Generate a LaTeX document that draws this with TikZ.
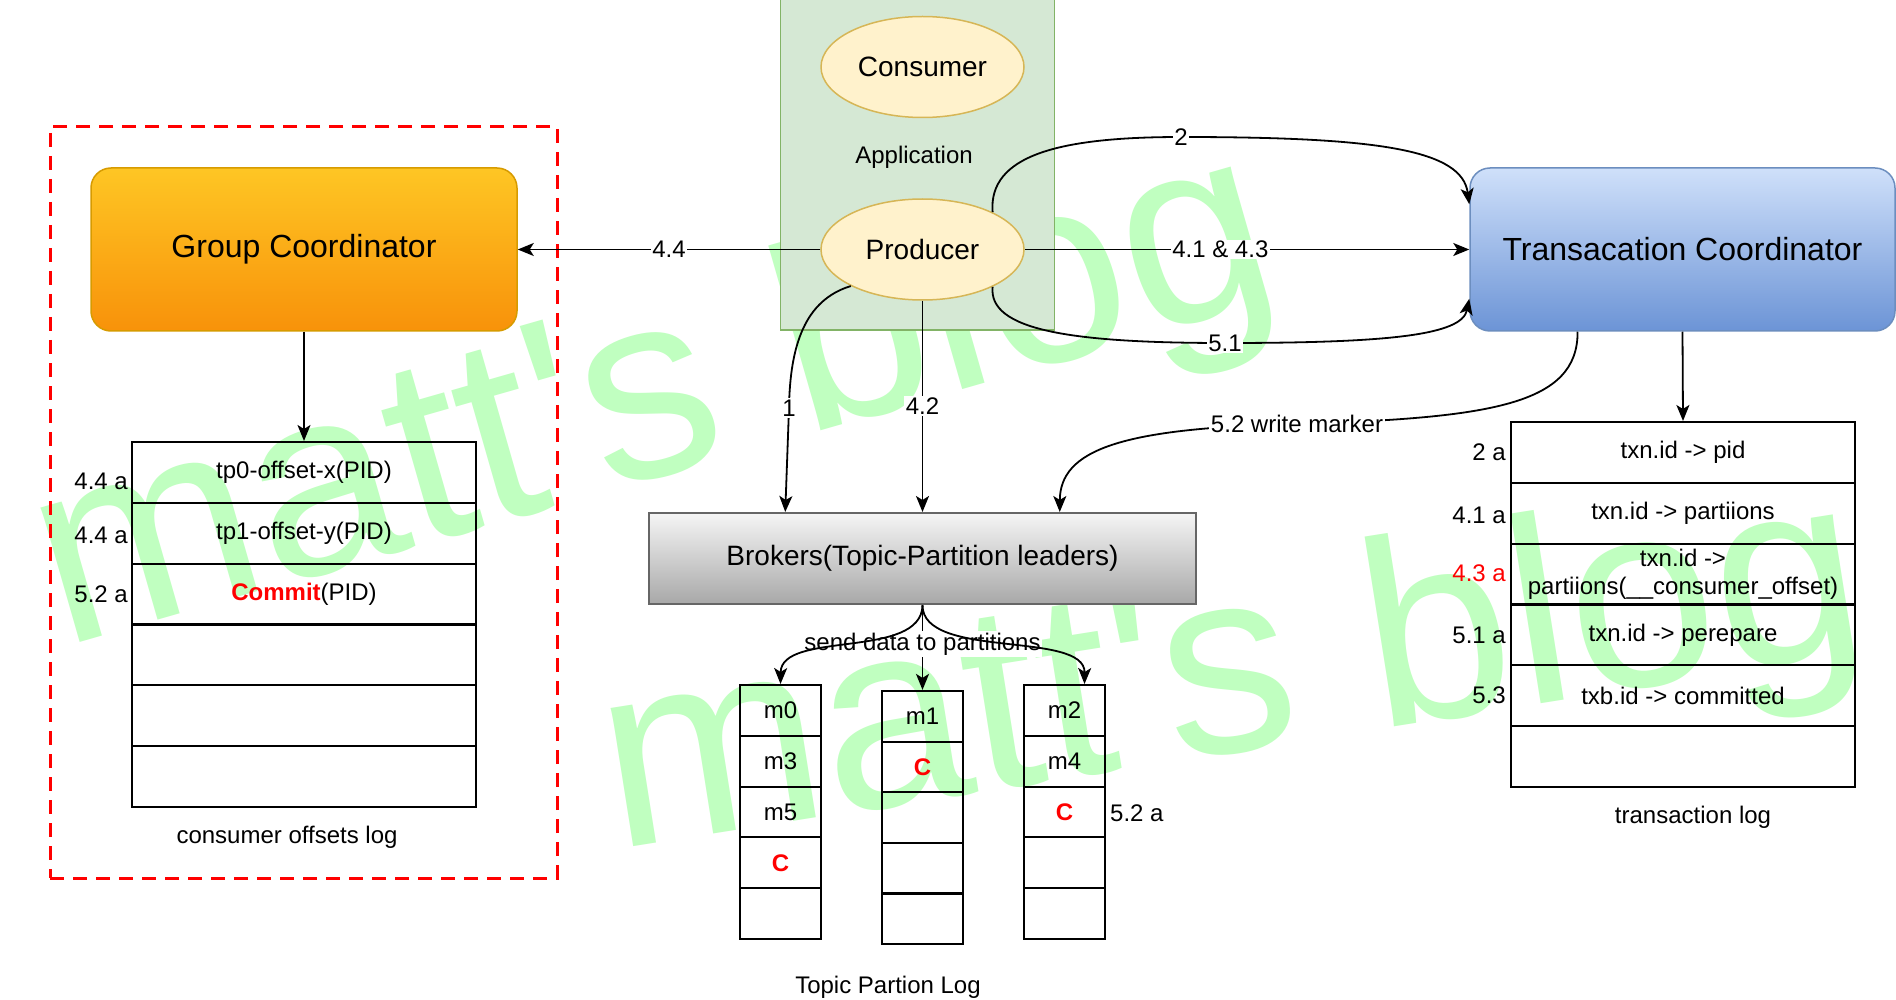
\documentclass[tikz,border=0pt]{standalone}
\usepackage{fontspec}
\setmainfont{Liberation Sans}
\newfontfamily\wmfont[Ligatures=TeXOff]{Liberation Sans}
\usetikzlibrary{arrows.meta,calc,shapes.geometric}
\definecolor{appfill}{HTML}{D5E8D4}
\definecolor{appline}{HTML}{82B366}
\definecolor{elfill}{HTML}{FFF2CC}
\definecolor{elline}{HTML}{D6B656}
\definecolor{gctop}{RGB}{254,198,36}
\definecolor{gcbot}{RGB}{248,146,10}
\definecolor{gcline}{RGB}{215,155,0}
\definecolor{tctop}{RGB}{207,224,250}
\definecolor{tcbot}{RGB}{108,148,214}
\definecolor{tcline}{RGB}{108,142,191}
\definecolor{brtop}{RGB}{245,245,245}
\definecolor{brbot}{RGB}{168,168,168}
\definecolor{brline}{RGB}{102,102,102}
\definecolor{wm}{RGB}{192,255,192}
\definecolor{myred}{RGB}{255,0,0}
\begin{document}
\begin{tikzpicture}[x=1pt,y=-1pt,
  txt/.style={font=\fontsize{24}{28}\selectfont, inner sep=0pt},
  conn/.style={line width=1.8pt, -{Stealth[length=16pt,width=13pt,inset=4pt]}},
  elab/.style={fill=white, font=\fontsize{24}{28}\selectfont, inner sep=1.5pt},
  cell/.style={draw=black, line width=2pt, minimum width=344pt, minimum height=60.83pt, inner sep=0pt, font=\fontsize{24}{28}\selectfont, align=center},
  pcell/.style={draw=black, line width=2pt, minimum width=81pt, minimum height=50.8pt, inner sep=0pt, font=\fontsize{24}{28}\selectfont},
  ell/.style={ellipse, draw=elline, fill=elfill, line width=1.5pt, minimum width=203pt, minimum height=101pt, inner sep=0pt, font=\fontsize{28}{33}\selectfont},
  coordbox/.style={rectangle, rounded corners=20pt, line width=1.5pt, minimum height=163pt, font=\fontsize{32}{38}\selectfont},
  redC/.style={text=myred, font=\fontsize{24}{28}\selectfont\bfseries},
  wmtext/.style={text=wm, font=\wmfont\fontsize{265}{300}\selectfont, inner sep=0pt, anchor=base west},
]
\useasboundingbox (0,0) rectangle (1896,1000);
\fill[white] (0,0) rectangle (1896,1000);

% watermark (behind everything)
\node[wmtext, rotate=16] (wm1) at (62,648) {matt's blog};
\node[wmtext, rotate=9] (wm2) at (615,850) {matt's blog};

% application
\node[draw=appline, fill=appfill, line width=1.5pt, minimum width=274pt, minimum height=345pt, inner sep=0pt] (app) at (917.5,157.5) {};
\node[txt] (apptxt) at (914,157) {Application};
\node[ell] (cons) at (922.5,67) {Consumer};
\node[ell] (prod) at (922.5,249.5) {Producer};

% coordinators and brokers
\node[coordbox, draw=gcline, top color=gctop, bottom color=gcbot, minimum width=426pt] (gc) at (304,249.5) {\raisebox{-3pt}{Group Coordinator}};
\node[coordbox, draw=tcline, top color=tctop, bottom color=tcbot, minimum width=425pt] (tc) at (1682.5,249.5) {Transacation Coordinator};
\node[draw=brline, top color=brtop, bottom color=brbot, line width=2pt, minimum width=547pt, minimum height=91pt, font=\fontsize{28}{33}\selectfont] (brk) at (922.5,558.5) {\raisebox{-4pt}{Brokers(Topic-Partition leaders)}};

% dashed group
\node[draw=myred, line width=3pt, dash pattern=on 14pt off 9pt, minimum width=507pt, minimum height=751pt, inner sep=0pt] (grp) at (303.5,502.5) {};

% consumer offsets log
\node[cell] (co1) at (304,472.4) {tp0-offset-x(PID)};
\node[cell] (co2) at (304,533.2) {tp1-offset-y(PID)};
\node[cell] (co3) at (304,594.1) {\textcolor{myred}{\bfseries Commit}(PID)};
\node[cell] (co4) at (304,654.9) {};
\node[cell] (co5) at (304,715.7) {};
\node[cell] (co6) at (304,776.6) {};
\node[txt, anchor=east] (la1) at (128,481) {4.4 a};
\node[txt, anchor=east] (la2) at (128,535) {4.4 a};
\node[txt, anchor=east] (la3) at (128,594) {5.2 a};
\node[txt] (colog) at (287,837) {consumer offsets log};

% transaction log
\node[cell] (tx1) at (1683,452.4) {\raisebox{-3pt}{txn.id -> pid}};
\node[cell] (tx2) at (1683,513.2) {txn.id -> partiions};
\node[cell] (tx3) at (1683,574.1) {txn.id ->\\partiions(\_\_consumer\_offset)};
\node[cell] (tx4) at (1683,634.9) {txn.id -> perepare};
\node[cell] (tx5) at (1683,695.7) {txb.id -> committed};
\node[cell] (tx6) at (1683,756.6) {};
\node[txt, anchor=east] (lb1) at (1506,452) {2 a};
\node[txt, anchor=east] (lb2) at (1506,515) {4.1 a};
\node[txt, anchor=east, text=myred] (lb3) at (1506,573) {4.3 a};
\node[txt, anchor=east] (lb4) at (1506,635) {5.1 a};
\node[txt, anchor=east] (lb5) at (1506,695) {5.3};
\node[txt] (txlog) at (1693,817) {transaction log};

% topic partition log
\node[pcell] (p11) at (780.5,710.4) {m0};
\node[pcell] (p12) at (780.5,761.2) {m3};
\node[pcell] (p13) at (780.5,812.0) {m5};
\node[pcell, redC] (p14) at (780.5,862.8) {C};
\node[pcell] (p15) at (780.5,913.6) {};
\node[pcell] (p21) at (922.5,716.3) {m1};
\node[pcell, redC] (p22) at (922.5,766.9) {C};
\node[pcell] (p23) at (922.5,817.5) {};
\node[pcell] (p24) at (922.5,868.1) {};
\node[pcell] (p25) at (922.5,918.7) {};
\node[pcell] (p31) at (1064.5,710.4) {m2};
\node[pcell] (p32) at (1064.5,761.2) {m4};
\node[pcell, redC] (p33) at (1064.5,812.0) {C};
\node[pcell] (p34) at (1064.5,862.8) {};
\node[pcell] (p35) at (1064.5,913.6) {};
\node[txt, anchor=west] (l52a) at (1110,813) {5.2 a};
\node[txt] (tplog) at (888,987) {Topic Partion Log};

% connectors
\coordinate (w2) at (1181,137);
\coordinate (w51) at (1225,343);
\coordinate (w1) at (789,408);
\coordinate (w52) at (1297,424);

\draw[conn] (gc.south) -- (co1.north);
\draw[conn] (tc.south) -- (tx1.north);
\draw[conn] (prod.west) -- node[elab, pos=0.5] (t44) {4.4} (gc.east);
\draw[conn] (prod.east) -- node[elab, pos=0.44] (t41) {4.1 \& 4.3} (tc.west);
\draw[conn] (prod.28) .. controls (988,155) and (1060,137) .. (w2) .. controls (1380,137) and (1462,150) .. ($(tc.north west)+(0,37)$);
\draw[conn] (prod.-28) .. controls (988,330) and (1070,343) .. (w51) .. controls (1390,343) and (1462,335) .. ($(tc.south west)+(0,-33)$);
\draw[conn] (prod.-153) .. controls (805,300) and (790,345) .. (w1) -- ($(brk.north west)!0.25!(brk.north east)$);
\draw[conn] (prod.south) -- node[elab, pos=0.5] (t42) {4.2} (brk.north);
\draw[conn] ($(tc.south west)!0.254!(tc.south east)$) .. controls (1578,405) and (1490,418) .. (w52) .. controls (1120,428) and (1060,450) .. ($(brk.north west)!0.75!(brk.north east)$);
\node[elab] (t2) at (w2) {2};
\node[elab] (t51) at (w51) {5.1};
\node[elab] (t1) at (w1) {1};
\node[elab] (t52) at (w52) {5.2 write marker};

\draw[conn] (brk.south) -- node[elab, pos=0.46] (tsend) {send data to partitions} (p21.north);
\draw[conn] (brk.south) .. controls (922,660) and (781,630) .. (p11.north);
\draw[conn] (brk.south) .. controls (922,660) and (1085,630) .. ($(p31.north)+(20,0)$);
\end{tikzpicture}
\end{document}
